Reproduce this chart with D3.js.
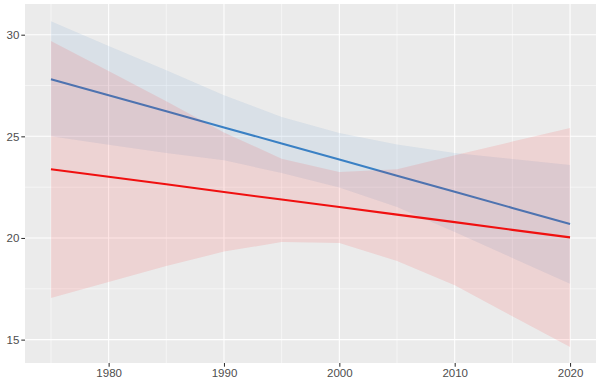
<!DOCTYPE html>
<html><head><meta charset="utf-8">
<script src="https://cdn.jsdelivr.net/npm/d3@7"></script>
<style>body{margin:0;background:#fff}svg{display:block}</style>
</head><body><svg id="c" width="604" height="382"></svg>
<script>
const years = [1975,1980,1985,1990,1995,2000,2005,2010,2015,2020];
const blueFit   = [27.81,27.02,26.23,25.44,24.65,23.86,23.06,22.27,21.48,20.69];
const blueUpper = [30.66,29.44,28.25,27.02,25.95,25.16,24.60,24.18,23.89,23.59];
const blueLower = [25.00,24.59,24.18,23.82,23.20,22.48,21.52,20.30,19.02,17.75];
const redFit    = [23.38,23.01,22.64,22.26,21.89,21.52,21.15,20.78,20.40,20.03];
const redUpper  = [29.69,28.21,26.72,25.19,23.90,23.25,23.38,24.07,24.74,25.41];
const redLower  = [17.05,17.84,18.62,19.33,19.80,19.75,18.87,17.67,16.15,14.64];
const xTicks = [1980,1990,2000,2010,2020];
const xMinor = [1975,1985,1995,2005,2015];
const yTicks = [15,20,25,30];
const yMinor = [17.5,22.5,27.5];

const svg = d3.select("#c");
const L=25,R=596,T=4,B=363;
const x = d3.scaleLinear().domain([1972.75,2022.25]).range([L,R]);
const y = d3.scaleLinear().domain([13.85,31.51]).range([B,T]);

svg.append("rect").attr("x",L).attr("y",T).attr("width",R-L).attr("height",B-T).attr("fill","#EBEBEB");
const g = svg.append("g");
yMinor.forEach(v=>g.append("line").attr("x1",L).attr("x2",R).attr("y1",y(v)).attr("y2",y(v)).attr("stroke","#fff").attr("stroke-width",0.53));
xMinor.forEach(v=>g.append("line").attr("y1",T).attr("y2",B).attr("x1",x(v)).attr("x2",x(v)).attr("stroke","#fff").attr("stroke-width",0.53));
yTicks.forEach(v=>g.append("line").attr("x1",L).attr("x2",R).attr("y1",y(v)).attr("y2",y(v)).attr("stroke","#fff").attr("stroke-width",1.07));
xTicks.forEach(v=>g.append("line").attr("y1",T).attr("y2",B).attr("x1",x(v)).attr("x2",x(v)).attr("stroke","#fff").attr("stroke-width",1.07));

const idx = d3.range(years.length);
function ribbon(up, lo, col){
  svg.append("path").datum(idx)
    .attr("d", d3.area().x(i=>x(years[i])).y0(i=>y(lo[i])).y1(i=>y(up[i])))
    .attr("fill", col).attr("fill-opacity",0.1);
}
function line(v, col){
  svg.append("path").datum(idx)
    .attr("d", d3.line().x(i=>x(years[i])).y(i=>y(v[i])))
    .attr("fill","none").attr("stroke",col).attr("stroke-width",2.1);
}
ribbon(blueUpper, blueLower, "#3a80c4");
line(blueFit, "#3a80c4");
ribbon(redUpper, redLower, "#ff0000");
line(redFit, "#f01010");

const xa = svg.append("g").attr("transform",`translate(0,${B})`)
  .call(d3.axisBottom(x).tickValues(xTicks).tickFormat(d3.format("d")).tickSize(3.7).tickPadding(2));
const ya = svg.append("g").attr("transform",`translate(${L},0)`)
  .call(d3.axisLeft(y).tickValues(yTicks).tickSize(3.7).tickPadding(2));
[xa,ya].forEach(a=>{
  a.select(".domain").remove();
  a.selectAll(".tick line").attr("stroke","#333").attr("stroke-width",1.07);
  a.selectAll("text").attr("fill","#4D4D4D").style("font-family","Liberation Sans, Arial, sans-serif").style("font-size","11.5px");
});
</script></body></html>
